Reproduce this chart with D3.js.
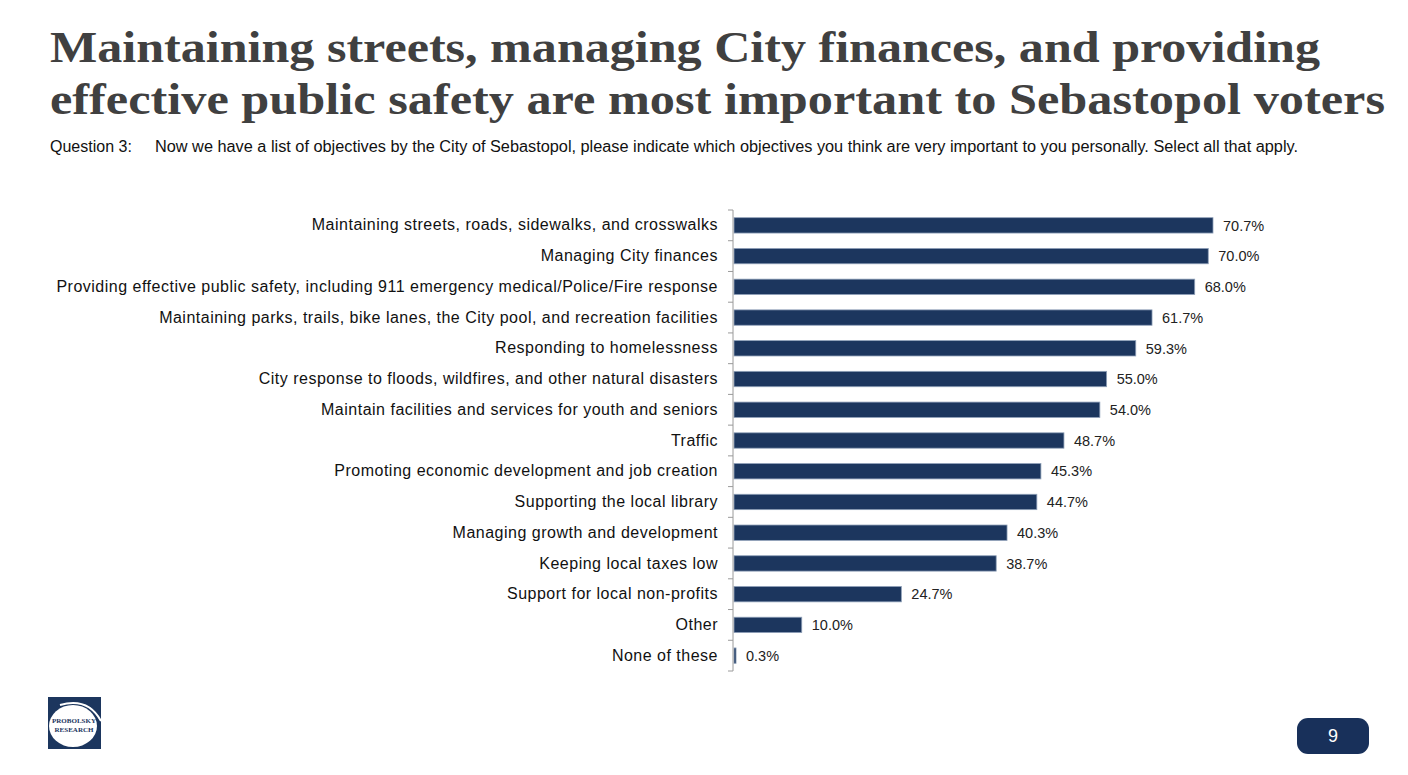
<!DOCTYPE html>
<html><head><meta charset="utf-8">
<script src="https://cdn.jsdelivr.net/npm/d3@7"></script>
<style>body{margin:0;background:#fff;}svg{display:block;}</style>
</head><body>
<svg id="c" width="1408" height="775"></svg>
<script>
const categories = [
  "Maintaining streets, roads, sidewalks, and crosswalks",
  "Managing City finances",
  "Providing effective public safety, including 911 emergency medical/Police/Fire response",
  "Maintaining parks, trails, bike lanes, the City pool, and recreation facilities",
  "Responding to homelessness",
  "City response to floods, wildfires, and other natural disasters",
  "Maintain facilities and services for youth and seniors",
  "Traffic",
  "Promoting economic development and job creation",
  "Supporting the local library",
  "Managing growth and development",
  "Keeping local taxes low",
  "Support for local non-profits",
  "Other",
  "None of these"
];
const values = [70.7, 70.0, 68.0, 61.7, 59.3, 55.0, 54.0, 48.7, 45.3, 44.7, 40.3, 38.7, 24.7, 10.0, 0.3];
const titleLines = [
  "Maintaining streets, managing City finances, and providing",
  "effective public safety are most important to Sebastopol voters"
];
const questionLabel = "Question 3:";
const questionText = "Now we have a list of objectives by the City of Sebastopol, please indicate which objectives you think are very important to you personally. Select all that apply.";
const pageNumber = "9";

const svg = d3.select("#c");
const sans = "'Liberation Sans', Arial, sans-serif";
const serif = "'Liberation Serif', Georgia, 'Times New Roman', serif";

// Title
svg.selectAll("text.title").data(titleLines).join("text")
  .attr("class","title")
  .attr("x", 50).attr("y", (d,i) => 62 + i*52)
  .attr("font-family", serif).attr("font-weight","bold")
  .attr("font-size", 44).attr("fill", "#404040")
  .attr("textLength", (d,i) => i===0 ? 1270 : 1335)
  .attr("lengthAdjust","spacingAndGlyphs")
  .text(d => d);

svg.append("text").attr("x",50).attr("y",152).attr("font-family",sans)
  .attr("font-size",16).attr("fill","#111").text(questionLabel);
svg.append("text").attr("x",155).attr("y",152).attr("font-family",sans)
  .attr("font-size",16).attr("fill","#111")
  .attr("textLength",1143).attr("lengthAdjust","spacingAndGlyphs")
  .text(questionText);

// Chart
const x0 = 734, y0 = 210, y1 = 671;
const x = d3.scaleLinear().domain([0, 70.7]).range([x0, 1213]);
const y = d3.scaleBand().domain(categories).range([y0, y1]).paddingInner(0.5).paddingOuter(0.25);

const g = svg.append("g");
g.selectAll("rect.bar").data(values).join("rect")
  .attr("class","bar")
  .attr("x", x(0))
  .attr("y", (d,i) => y(categories[i]))
  .attr("width", d => x(d) - x(0))
  .attr("height", y.bandwidth())
  .attr("fill", "#1c365e")
  .attr("stroke", "#8fa0b8").attr("stroke-width", 0.8);

g.selectAll("text.val").data(values).join("text")
  .attr("class","val")
  .attr("x", d => x(d) + 10)
  .attr("y", (d,i) => y(categories[i]) + y.bandwidth()/2)
  .attr("dy", "0.36em")
  .attr("font-family", sans).attr("font-size", 14.5).attr("fill", "#222")
  .text(d => d.toFixed(1) + "%");

// Axis
const axisY = d3.axisLeft(y).tickSize(0).tickPadding(15).tickFormat(d => d);
const ag = svg.append("g").attr("transform", `translate(${x0 - 1},0)`).call(axisY);
ag.select(".domain").attr("stroke", "#9a9a9a").attr("stroke-width", 1)
  .attr("d", `M0,${y0}V${y1}`);
ag.selectAll("text").attr("font-family", sans).attr("font-size", 16).attr("fill", "#111")
  .attr("letter-spacing", "0.5px");
// boundary tick marks
const bounds = d3.range(categories.length + 1).map(i => y0 + i * (y1 - y0) / categories.length);
ag.selectAll("line.bt").data(bounds).join("line").attr("class","bt")
  .attr("x1", -5).attr("x2", 0).attr("y1", d => d).attr("y2", d => d)
  .attr("stroke", "#9a9a9a");

// Logo
const logo = svg.append("g").attr("transform","translate(48,697)");
logo.append("rect").attr("width",53).attr("height",52).attr("fill","#1c365e");
logo.append("ellipse").attr("cx",25).attr("cy",29).attr("rx",24).attr("ry",21).attr("fill","#fff");
logo.append("path").attr("d","M12,8 Q40,0 53,24").attr("fill","none").attr("stroke","#fff").attr("stroke-width",2);
logo.append("text").attr("x",26).attr("y",26).attr("text-anchor","middle")
  .attr("font-family",serif).attr("font-weight","bold").attr("font-size",7).attr("fill","#1c365e").text("PROBOLSKY");
logo.append("text").attr("x",26).attr("y",35).attr("text-anchor","middle")
  .attr("font-family",serif).attr("font-weight","bold").attr("font-size",7).attr("fill","#1c365e").text("RESEARCH");

// Page number
svg.append("rect").attr("x",1297).attr("y",718).attr("width",72).attr("height",36).attr("rx",11)
  .attr("fill","#18305a");
svg.append("text").attr("x",1333).attr("y",736).attr("dy","0.36em").attr("text-anchor","middle")
  .attr("font-family",sans).attr("font-size",18).attr("fill","#fff").text(pageNumber);
</script>
</body></html>
